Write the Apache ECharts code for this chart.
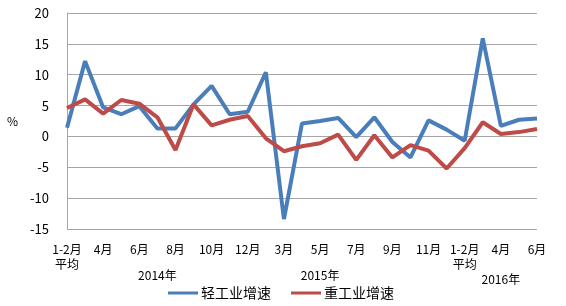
<!DOCTYPE html>
<html><head><meta charset="utf-8">
<script src="https://cdn.jsdelivr.net/npm/echarts@6/dist/echarts.min.js"></script>
<style>html,body{margin:0;padding:0;background:#fff}#c{width:566px;height:306px}</style>
</head><body><div id="c"></div>
<script>
const categories = ['1-2月\n平均','3月','4月','5月','6月','7月','8月','9月','10月','11月','12月',
  '1-2月\n平均','3月','4月','5月','6月','7月','8月','9月','10月','11月','12月',
  '1-2月\n平均','3月','4月','5月','6月'];
const years = ['','','','','','2014年','','','','','','','','','2015年','','','','','','','','','','2016年','',''];
const lightIndustry = [1.4,12.2,4.7,3.6,4.9,1.3,1.3,5.2,8.2,3.6,4.0,10.4,-13.4,2.1,2.5,3.0,-0.1,3.1,-0.9,-3.4,2.6,1.1,-0.7,15.9,1.7,2.7,2.9];
const heavyIndustry = [4.6,6.0,3.7,5.9,5.3,3.1,-2.2,5.2,1.8,2.7,3.3,-0.3,-2.4,-1.6,-1.1,0.3,-3.8,0.2,-3.4,-1.4,-2.3,-5.2,-1.9,2.3,0.4,0.7,1.2];
const seriesNames = ['轻工业增速','重工业增速'];
const yTicks = {min:-15, max:20, interval:5};

const chart = echarts.init(document.getElementById('c'));
const font = '"Noto Sans CJK SC", "DejaVu Sans", sans-serif';
chart.setOption({
  animation:false,
  grid:{left:67,right:29,top:13,bottom:77},
  legend:{
    data:seriesNames, left:163, top:281, icon:'rect', itemWidth:30, itemHeight:3, itemGap:20,
    textStyle:{fontFamily:font,fontSize:14,color:'#000',padding:[0,0,0,-2]}
  },
  xAxis:[{
    type:'category', data:categories, boundaryGap:false,
    axisLine:{show:false}, axisTick:{show:false},
    axisLabel:{interval:1, margin:13, fontFamily:font, fontSize:12, color:'#000', lineHeight:15}
  },{
    type:'category', data:years, boundaryGap:false, position:'bottom',
    axisLine:{show:false}, axisTick:{show:false}, splitLine:{show:false},
    axisLabel:{interval:0, margin:40, fontFamily:font, fontSize:12, color:'#000',
      formatter:function(v){ return v==='2016年' ? '{b|'+v+'}' : v; },
      rich:{b:{fontFamily:font,fontSize:12,color:'#000',padding:[4,0,0,0]}}}
  }],
  yAxis:{
    type:'value', min:yTicks.min, max:yTicks.max, interval:yTicks.interval,
    name:'%', nameLocation:'middle', nameRotate:0, nameGap:49,
    nameTextStyle:{fontFamily:font,fontSize:12,color:'#000'},
    axisLine:{show:true,lineStyle:{color:'#a6a6a6',width:1}}, axisTick:{show:false},
    axisLabel:{margin:18, fontFamily:font, fontSize:13, color:'#000'},
    splitLine:{lineStyle:{color:'#a6a6a6',width:1.2}}
  },
  series:[
    {name:seriesNames[0], type:'line', data:lightIndustry, symbol:'none', xAxisIndex:0,
     lineStyle:{color:'#4a7ebb',width:4}, itemStyle:{color:'#4a7ebb'}},
    {name:seriesNames[1], type:'line', data:heavyIndustry, symbol:'none', xAxisIndex:0,
     lineStyle:{color:'#be4b48',width:4}, itemStyle:{color:'#be4b48'}}
  ]
});
</script></body></html>
